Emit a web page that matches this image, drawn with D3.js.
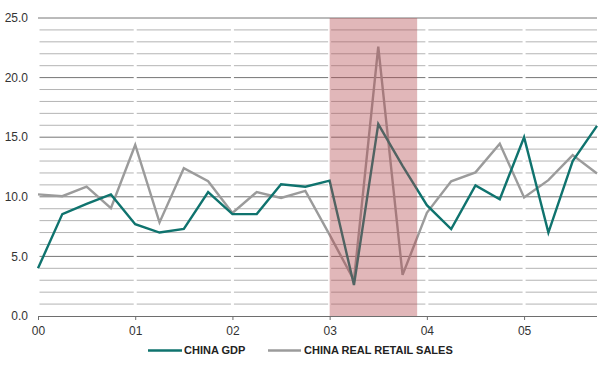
<!DOCTYPE html>
<html><head><meta charset="utf-8">
<script src="https://cdn.jsdelivr.net/npm/d3@7"></script>
<style>
html,body{margin:0;padding:0;background:#fff;}
svg{display:block;}
text{font-family:"Liberation Sans",Arial,sans-serif;}
</style></head>
<body><svg id="c" width="600" height="369"></svg>
<script>
// ---- data ----
const yearLabels = ["00","01","02","03","04","05"];
const quarters = d3.range(24).map(i => i * 0.25); // time in years since 2000 (quarterly)
const chinaGDP = [4.0, 8.55, 9.4, 10.2, 7.7, 7.0, 7.3, 10.4, 8.55, 8.55, 11.05, 10.85,
                  11.35, 2.6, 16.1, 12.6, 9.3, 7.3, 10.95, 9.8, 15.0, 7.0, 13.0, 15.95];
const chinaRetail = [10.2, 10.05, 10.85, 9.05, 14.35, 7.85, 12.4, 11.3, 8.65, 10.4, 9.9, 10.5,
                     6.8, 3.0, 22.6, 3.45, 8.65, 11.3, 12.05, 14.45, 9.95, 11.4, 13.5, 11.95];
const yTicks = [0, 5, 10, 15, 20, 25];
const shadeRange = [3.0, 3.9];
const seriesNames = ["CHINA GDP", "CHINA REAL RETAIL SALES"];

// ---- layout ----
const svg = d3.select("#c");
const L = 38, R = 597, T = 18, B = 316;
const x = d3.scaleLinear().domain([0, 5.75]).range([L, R]);
const y = d3.scaleLinear().domain([0, 25]).range([B, T]);

// gridlines
const grid = svg.append("g");
grid.selectAll("line").data(d3.range(1, 25)).join("line")
  .attr("x1", L).attr("x2", R)
  .attr("y1", d => y(d)).attr("y2", d => y(d))
  .attr("stroke", d => d % 5 === 0 ? "#767676" : "#b4b4b4")
  .attr("stroke-width", 1);
// white year separators
svg.append("g").selectAll("line").data(d3.range(0, 6)).join("line")
  .attr("x1", d => x(d)).attr("x2", d => x(d))
  .attr("y1", y(25) + 1).attr("y2", y(0) - 1)
  .attr("stroke", "#fff").attr("stroke-width", 3);
// top frame line
svg.append("line").attr("x1", L).attr("x2", R).attr("y1", y(25)).attr("y2", y(25))
  .attr("stroke", "#767676").attr("stroke-width", 1);

// lines
const line = d3.line().x((d, i) => x(quarters[i])).y(d => y(d));
svg.append("path").datum(chinaRetail).attr("d", line)
  .attr("fill", "none").attr("stroke", "#9b9b9b").attr("stroke-width", 2.4)
  .attr("stroke-linejoin", "miter");
svg.append("path").datum(chinaGDP).attr("d", line)
  .attr("fill", "none").attr("stroke", "#0f736e").attr("stroke-width", 2.4)
  .attr("stroke-linejoin", "miter");

// shaded recession band
svg.append("rect")
  .attr("x", x(shadeRange[0])).attr("width", x(shadeRange[1]) - x(shadeRange[0]))
  .attr("y", y(25)).attr("height", y(0) - y(25))
  .attr("fill", "rgb(180,75,80)").attr("fill-opacity", 0.4);

// x axis
const xAxis = svg.append("g").attr("transform", `translate(0,${B})`)
  .call(d3.axisBottom(x).tickValues(d3.range(0, 6)).tickFormat((d, i) => yearLabels[i])
        .tickSize(4).tickPadding(6));
xAxis.select(".domain").attr("stroke", "#6e6e6e").attr("d", `M${L},0.5H${R}`);
xAxis.selectAll(".tick line").attr("stroke", "#6e6e6e");
xAxis.selectAll("text").attr("font-size", 12).attr("fill", "#333")
  .attr("font-family", "Liberation Sans, Arial, sans-serif");

// y labels
svg.append("g").selectAll("text").data(yTicks).join("text")
  .attr("x", 28).attr("y", d => y(d)).attr("dy", "0.35em")
  .attr("text-anchor", "end").attr("font-size", 12).attr("fill", "#333")
  .text(d => d3.format(".1f")(d));

// legend
const legend = [
  {name: seriesNames[0], color: "#0f736e", x1: 148, x2: 182, tx: 184},
  {name: seriesNames[1], color: "#9b9b9b", x1: 268, x2: 301, tx: 304}
];
const lg = svg.append("g");
lg.selectAll("line").data(legend).join("line")
  .attr("x1", d => d.x1).attr("x2", d => d.x2).attr("y1", 350.5).attr("y2", 350.5)
  .attr("stroke", d => d.color).attr("stroke-width", 2.5);
lg.selectAll("text").data(legend).join("text")
  .attr("x", d => d.tx).attr("y", 350.5).attr("dy", "0.36em")
  .attr("font-size", 11).attr("font-weight", "bold").attr("fill", "#222")
  .style("font-family", "'Liberation Sans Narrow','Arial Narrow',sans-serif")
  .text(d => d.name);
</script></body></html>
